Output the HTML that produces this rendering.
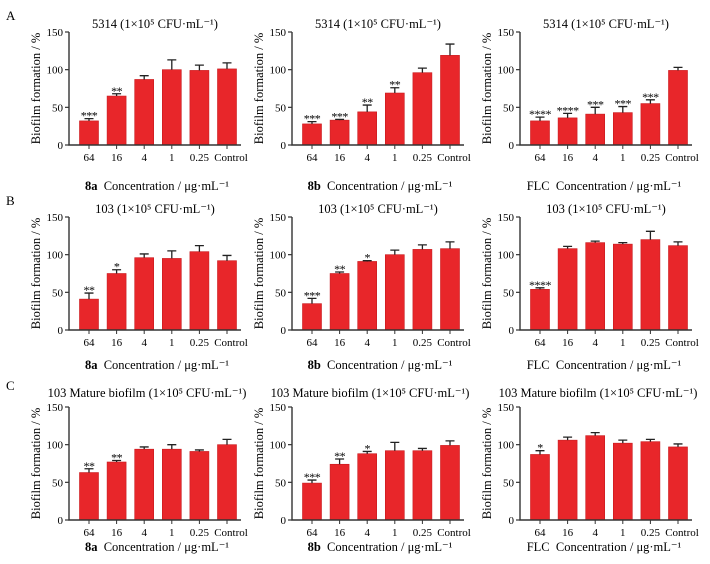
<!DOCTYPE html>
<html><head><meta charset="utf-8"><style>
html,body{margin:0;padding:0;background:#fff;}
svg{display:block;font-family:"Liberation Serif",serif;}
</style></head><body>
<svg id="fig" width="710" height="564" viewBox="0 0 710 564" xmlns="http://www.w3.org/2000/svg"></svg>
<script>
const categories = ["64","16","4","1","0.25","Control"];
const yTicks = [0,50,100,150];
const valsA1=[32,65,87,100,99,101], errA1=[3,3,5,13,7,8], starsA1=["***","**","","","",""];
const valsA2=[28,33,44,69,96,119], errA2=[3,1,9,7,6,15], starsA2=["***","***","**","**","",""];
const valsA3=[32,36,41,43,55,99], errA3=[5,6,9,8,5,4], starsA3=["****","****","***","***","***",""];
const valsB1=[41,75,96,95,104,92], errB1=[8,5,5,10,8,7], starsB1=["**","*","","","",""];
const valsB2=[35,75,91,100,107,108], errB2=[7,2,1,6,6,9], starsB2=["***","**","*","","",""];
const valsB3=[54,108,116,114,120,112], errB3=[2,3,2,2,11,5], starsB3=["****","","","","",""];
const valsC1=[63,77,94,94,91,100], errC1=[5,2,3,6,2,7], starsC1=["**","**","","","",""];
const valsC2=[49,74,88,92,92,99], errC2=[4,7,3,11,3,6], starsC2=["***","**","*","","",""];
const valsC3=[87,106,112,102,104,97], errC3=[5,4,4,4,3,4], starsC3=["*","","","","",""];
const titles=["5314 (1×10⁵ CFU·mL⁻¹)","103 (1×10⁵ CFU·mL⁻¹)","103 Mature biofilm (1×10⁵ CFU·mL⁻¹)"];
const drugs=["8a","8b","FLC"];
const panels=[
 [valsA1,errA1,starsA1],[valsA2,errA2,starsA2],[valsA3,errA3,starsA3],
 [valsB1,errB1,starsB1],[valsB2,errB2,starsB2],[valsB3,errB3,starsB3],
 [valsC1,errC1,starsC1],[valsC2,errC2,starsC2],[valsC3,errC3,starsC3]];
const svg=document.getElementById('fig');
const NS="http://www.w3.org/2000/svg";
function mk(tag,attrs,parent,text){const e=document.createElementNS(NS,tag);for(const k in attrs)e.setAttribute(k,attrs[k]);if(text!==undefined)e.textContent=text;(parent||svg).appendChild(e);return e;}
const colX=[69,292,520], rowY=[145,330,520], titleY=[28,213,397], xtitleY=[190,369,551], letterY=[20,205,390];
["A","B","C"].forEach((L,r)=>{const t=mk('text',{x:6,y:letterY[r],'font-size':13},svg,L);

});
panels.forEach((p,idx)=>{
 const r=Math.floor(idx/3), c=idx%3;
 const ax=colX[c], zy=rowY[r];
 const g=mk('g',{});
 
 
 const y=v=>zy - v*113/150;
 const x=i=>ax+20+i*27.6;
 const right=x(5)+14;
 const tt=mk('text',{x:(ax+right)/2+(r===2?-8:0),y:titleY[r],'text-anchor':'middle','font-size':12.5},g,titles[r]);
 
 
 p[0].forEach((v,i)=>{
  const b=mk('rect',{x:x(i)-9.5,y:y(v),width:19,height:zy-y(v),fill:'#e8262a',stroke:'#c81a1e','stroke-width':0.6},g);
  
  
  const et=y(v+p[1][i]);
  const e=mk('path',{d:`M${x(i)} ${y(v)} V${et} M${x(i)-4.5} ${et} H${x(i)+4.5}`,stroke:'#222','stroke-width':1.3,fill:'none'},g);
  
  
  if(p[2][i]){const s=mk('text',{x:x(i),y:et+1,'text-anchor':'middle','font-size':12,'letter-spacing':'-0.5'},g,p[2][i]);
   
   }
  const tk=mk('line',{x1:x(i),x2:x(i),y1:zy,y2:zy+4,stroke:'#333','stroke-width':1},g);
  
  
  const tl=mk('text',{x:x(i)+(i===5?4:0),y:zy+16,'text-anchor':'middle','font-size':11},g,categories[i]);
  
  
 });
 const axl=mk('path',{d:`M${ax} ${y(150)} V${zy} H${right}`,stroke:'#333','stroke-width':1.4,fill:'none'},g);
 
 
 yTicks.forEach(t=>{
  const l=mk('line',{x1:ax-4,x2:ax,y1:y(t),y2:y(t),stroke:'#333','stroke-width':1.2},g);
  
  
  const tl=mk('text',{x:ax-6,y:y(t)+4,'text-anchor':'end','font-size':11},g,String(t));
  
  
 });
 const yt=mk('text',{transform:`translate(${ax-29},${(zy+y(150))/2}) rotate(-90)`,'text-anchor':'middle','font-size':12.5},g,'Biofilm formation / %');
 
 
 const xt=mk('text',{x:(ax+right)/2+(c===2?-2:2),y:xtitleY[r],'text-anchor':'middle','font-size':12.5},g);
 
 
 mk('tspan',{'font-weight':drugs[c]==='FLC'?'normal':'bold'},xt,drugs[c]);
 mk('tspan',{},xt,'\u00a0 Concentration / μg·mL⁻¹');
});
</script>
</body></html>
